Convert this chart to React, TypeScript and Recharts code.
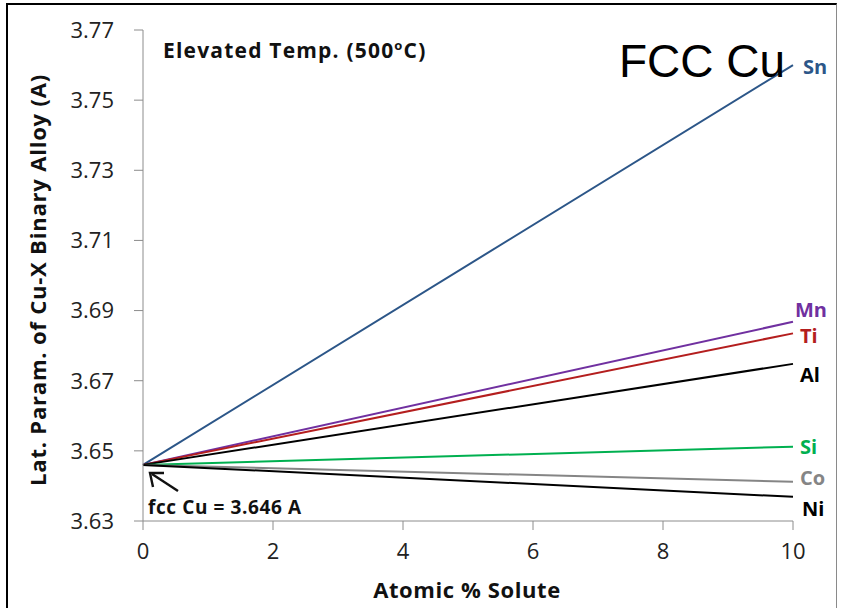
import { LineChart, Line, XAxis, YAxis, LabelList } from "recharts";

// Cu-X binary alloy lattice parameter vs solute content (Vegard-type lines)
const xValues = [0, 10];
const seriesNames = ["Sn", "Mn", "Ti", "Al", "Si", "Co", "Ni"];
const startValue = 3.646;
const endValues = [3.76, 3.6868, 3.6835, 3.6748, 3.6512, 3.6412, 3.6369];
const xTicks = [0, 2, 4, 6, 8, 10];
const yTicks = [3.63, 3.65, 3.67, 3.69, 3.71, 3.73, 3.75, 3.77];

const SERIES_STYLE: Record<string, { color: string; dy: number; dx: number }> = {
  Sn: { color: "#2C5688", dy: 1, dx: 10 },
  Mn: { color: "#7030A0", dy: -12, dx: 2 },
  Ti: { color: "#B41E1E", dy: 2, dx: 7 },
  Al: { color: "#000000", dy: 11, dx: 7 },
  Si: { color: "#00B050", dy: 0, dx: 7 },
  Co: { color: "#858585", dy: -4, dx: 7 },
  Ni: { color: "#000000", dy: 12, dx: 9 },
};

const FONT = "'Open Sans', 'Noto Sans', sans-serif";

const data = xValues.map((x, i) => {
  const row: Record<string, number> = { x };
  seriesNames.forEach((name, s) => {
    row[name] = i === 0 ? startValue : endValues[s];
  });
  return row;
});

function EndLabel(name: string) {
  const st = SERIES_STYLE[name];
  return (props: any) => {
    if (props.index !== xValues.length - 1) return null;
    return (
      <text
        x={Number(props.x) + st.dx}
        y={Number(props.y) + st.dy}
        dominantBaseline="central"
        fill={st.color}
        fontFamily={FONT}
        fontWeight={700}
        fontSize={20}
      >
        {name}
      </text>
    );
  };
}

export default function App() {
  return (
    <div style={{ position: "absolute", left: 0, top: 0, width: 845, height: 608, background: "#fff", overflow: "hidden" }}>
      <div
        style={{
          position: "absolute",
          left: 6,
          top: 3,
          width: 831,
          height: 620,
          borderLeft: "2px solid #000",
          borderTop: "2px solid #000",
          borderRight: "1px solid #8a8a8a",
          boxSizing: "border-box",
        }}
      />
      <div style={{ position: "absolute", left: 0, top: 0 }}>
        <LineChart
          width={845}
          height={608}
          data={data}
          margin={{ top: 30, right: 52, left: 23, bottom: 20 }}
        >
          <XAxis
            dataKey="x"
            type="number"
            domain={[0, 10]}
            ticks={xTicks}
            height={67}
            tickSize={9}
            tickMargin={13}
            stroke="#8c8c8c"
            tick={{ fill: "#222", fontSize: 22, fontFamily: FONT }}
          />
          <YAxis
            type="number"
            domain={[3.63, 3.77]}
            ticks={yTicks}
            width={120}
            tickSize={9}
            tickMargin={20}
            stroke="#8c8c8c"
            tickFormatter={(v) => Number(v).toFixed(2)}
            tick={{ fill: "#222", fontSize: 22, fontFamily: FONT }}
          />
          {seriesNames.map((name) => (
            <Line
              key={name}
              dataKey={name}
              type="linear"
              stroke={SERIES_STYLE[name].color}
              strokeWidth={2}
              dot={false}
              isAnimationActive={false}
            >
              <LabelList dataKey={name} content={EndLabel(name)} />
            </Line>
          ))}
        </LineChart>
      </div>
      <svg
        width={845}
        height={608}
        style={{ position: "absolute", left: 0, top: 0, pointerEvents: "none" }}
      >
        <text
          x={163}
          y={58}
          fontFamily={FONT}
          fontWeight={700}
          fontSize={21}
          letterSpacing={1.2}
          fill="#111"
        >
          Elevated Temp. (500
          <tspan fontSize={13} dy={-8}>o</tspan>
          <tspan dy={8}>C)</tspan>
        </text>
        <text x={619} y={77} fontFamily="'Liberation Sans', Arial, sans-serif" fontSize={46} fill="#000">
          FCC Cu
        </text>
        <text
          x={467}
          y={598}
          textAnchor="middle"
          fontFamily={FONT}
          fontWeight={700}
          fontSize={22}
          letterSpacing={0.6}
          fill="#111"
        >
          Atomic % Solute
        </text>
        <text
          x={0}
          y={0}
          transform="translate(46 280) rotate(-90)"
          textAnchor="middle"
          fontFamily={FONT}
          fontWeight={700}
          fontSize={22}
          letterSpacing={0.8}
          fill="#111"
        >
          Lat. Param. of Cu-X Binary Alloy (A)
        </text>
        <text x={148} y={514} fontFamily={FONT} fontWeight={700} fontSize={19} letterSpacing={0.6} fill="#111">
          fcc Cu = 3.646 A
        </text>
        <line x1={178} y1={491} x2={152} y2={474} stroke="#111" strokeWidth={2.4} />
        <polyline points="153,487 150,473 164,473" fill="none" stroke="#111" strokeWidth={2.4} />
      </svg>
    </div>
  );
}
